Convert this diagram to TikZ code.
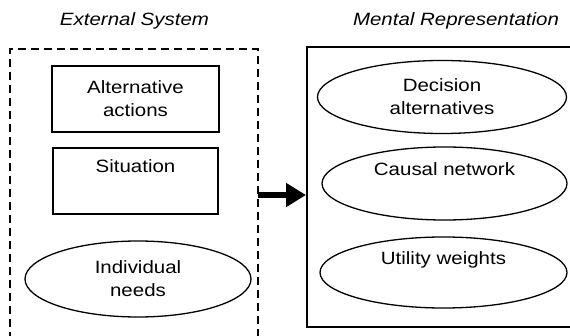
\documentclass[tikz,border=0pt]{standalone}
\usepackage{fontspec}
\setmainfont{Liberation Sans}[FakeStretch=1.15]
\usetikzlibrary{shapes.geometric,arrows.meta}
\tikzset{
  every node/.style={font=\fontsize{17.8}{23}\selectfont, align=center, inner sep=0pt},
  rectbox/.style={draw, line width=1.3pt, minimum width=#1},
  ellbox/.style={draw, ellipse, line width=1.3pt},
  titletext/.style={font=\fontsize{17.8}{23}\selectfont\itshape, anchor=base},
}
\begin{document}
\begin{tikzpicture}[x=1pt,y=1pt]
\useasboundingbox (0,0) rectangle (570,335);
\clip (0,0) rectangle (570,335);
\fill[white] (0,0) rectangle (570,335);
% titles
\node[titletext] (t1) at (134.5,309.3) {External System};
\node[titletext] (t2) at (456,309.3) {Mental Representation};
% frames
\draw[line width=1.3pt, dash pattern=on 8pt off 5pt] (10,-5) -- (10,286) -- (258,286) -- (258,-5);
\draw[line width=1.3pt] (580,8) -- (307,8) -- (307,288) -- (580,288);
% left items
\node[rectbox=167pt, minimum height=66pt] (alt) at (135.5,236) {Alternative\\actions};
\node[rectbox=165pt, minimum height=66pt, text depth=29pt] (sit) at (135.5,154) {Situation};
\node[ellbox, minimum width=226pt, minimum height=76pt] (need) at (138,56) {Individual\\needs};
% right items
\node[ellbox, minimum width=249pt, minimum height=73pt] (dec) at (442,238) {Decision\\alternatives};
\node[ellbox, minimum width=245pt, minimum height=73pt, text depth=28pt] (caus) at (444.5,151.5) {Causal network};
\node[ellbox, minimum width=247pt, minimum height=71pt, text depth=28pt] (util) at (443.5,62.5) {Utility weights};
% arrow
\coordinate (a) at (258,140);
\coordinate (b) at (306,140);
\draw[line width=6.5pt, -{Triangle[length=20pt, width=23pt]}] (a) -- (b);
\end{tikzpicture}
\end{document}
